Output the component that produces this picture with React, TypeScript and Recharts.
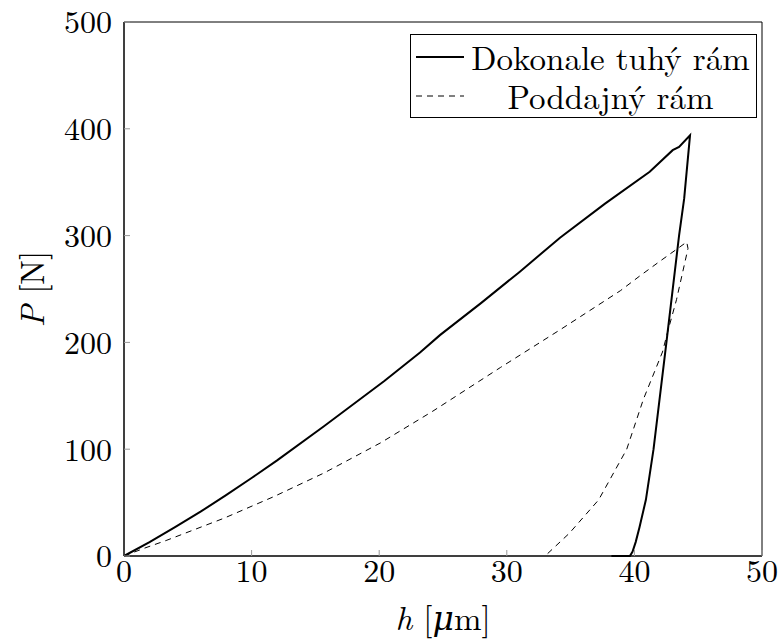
import React from 'react';
import { LineChart, Line, XAxis, YAxis, Label, ReferenceArea } from 'recharts';

// Dokonale tuhý rám (zatěžování + odlehčení)
const tuhyH = [0, 2, 4, 6, 8, 10, 12, 15.67, 20.4, 23.2, 24.76, 28, 31, 34.17, 37.7, 41.2, 43, 43.5, 44.36, 43.9, 43.5, 42.5, 41.5, 40.9, 40.4, 40.1, 39.85, 39.65, 38.2];
const tuhyP = [0, 13, 27, 41.5, 57, 73, 89.5, 121.5, 163.8, 190.5, 206.8, 237, 266, 298, 329.9, 359.7, 380, 383, 394, 334.6, 300, 199, 100, 52.6, 27, 13, 4, 0, 0];

// Poddajný rám
const poddH = [0, 1.57, 3.3, 7.84, 11.76, 15.67, 20.1, 24.2, 29.5, 34.2, 38.9, 40.4, 42, 44.1, 44.2, 43.3, 42.6, 42.2, 40.7, 39.4, 37.2, 34.9, 33.0];
const poddP = [0, 7.2, 14.5, 35.4, 55.7, 77.7, 105.9, 135.6, 176.5, 212, 248.4, 262, 276, 294, 288, 240, 209.6, 191, 146.6, 100, 52.6, 21.3, 0];

const xTicks = [0, 10, 20, 30, 40, 50];
const yTicks = [0, 100, 200, 300, 400, 500];

const toPoints = (hs: number[], ps: number[]) => hs.map((h, i) => ({ h, P: ps[i] }));

const series = [
  { name: 'Dokonale tuhý rám', data: toPoints(tuhyH, tuhyP), width: 2, dash: undefined },
  { name: 'Poddajný rám', data: toPoints(poddH, poddP), width: 1, dash: '6 5' },
];

const FONT = '"Latin Modern Roman", "DejaVu Serif", serif';
const tickStyle = { fontFamily: FONT, fontSize: 32, fill: '#000' };

const YTitle = ({ viewBox }: any) => {
  const cx = 30;
  const cy = viewBox.y + viewBox.height / 2;
  return (
    <text x={cx} y={cy} transform={`rotate(-90 ${cx} ${cy})`} textAnchor="middle" dominantBaseline="central"
      fontFamily={FONT} fontSize={33} fill="#000">
      <tspan fontStyle="italic">P</tspan>
      <tspan> [N]</tspan>
    </text>
  );
};

const XTitle = ({ viewBox }: any) => {
  const cx = viewBox.x + viewBox.width / 2;
  return (
    <text x={cx} y={630} textAnchor="middle" fontFamily={FONT} fontSize={33} fill="#000">
      <tspan fontStyle="italic">h</tspan>
      <tspan> [</tspan>
      <tspan fontStyle="italic">μ</tspan>
      <tspan>m]</tspan>
    </text>
  );
};

const LegendBox = () => (
  <div
    style={{
      position: 'absolute', left: 410, top: 34, width: 347, height: 84,
      border: '1px solid #000', background: '#fff', fontFamily: FONT, fontSize: 33,
      boxSizing: 'border-box', padding: '2px 3px',
    }}
  >
    {series.map((s) => (
      <div key={s.name} style={{ display: 'flex', alignItems: 'center', height: 39, lineHeight: 1 }}>
        <svg width={54} height={10} style={{ flex: 'none' }}>
          <line x1={2} y1={5} x2={50} y2={5} stroke="#000" strokeWidth={s.width} strokeDasharray={s.dash ? '6 5' : undefined} />
        </svg>
        <span style={{ flex: 1, textAlign: 'center', whiteSpace: 'nowrap' }}>{s.name}</span>
      </div>
    ))}
  </div>
);

export default function App() {
  return (
    <div style={{ position: 'relative', width: 778, height: 640, background: '#fff' }}>
      <style>{`body{margin:0}`}</style>
      <LineChart width={778} height={640} margin={{ top: 22, right: 16, bottom: 0, left: 0 }}>
        <XAxis dataKey="h" type="number" domain={[0, 50]} ticks={xTicks} height={84}
          tick={tickStyle} tickSize={-6} tickMargin={9}
          axisLine={{ stroke: '#000' }} tickLine={{ stroke: '#999' }}>
          <Label content={<XTitle />} />
        </XAxis>
        <XAxis xAxisId="top" dataKey="h" orientation="top" type="number" domain={[0, 50]} ticks={xTicks} height={0}
          tick={false} tickSize={-6} axisLine={{ stroke: '#000' }} tickLine={{ stroke: '#999' }} />
        <YAxis dataKey="P" type="number" domain={[0, 500]} ticks={yTicks} width={124}
          tick={tickStyle} tickSize={-6} tickMargin={18}
          axisLine={{ stroke: '#000' }} tickLine={{ stroke: '#999' }}>
          <Label content={<YTitle />} />
        </YAxis>
        <YAxis yAxisId="right" dataKey="P" orientation="right" type="number" domain={[0, 500]} ticks={yTicks} width={0}
          tick={false} tickSize={-6} axisLine={{ stroke: '#000' }} tickLine={{ stroke: '#999' }} />
        <ReferenceArea x1={0} x2={50} y1={0} y2={500} fill="none" stroke="#000" strokeWidth={1} ifOverflow="visible" />
        {series.map((s) => (
          <Line key={s.name} data={s.data} dataKey="P" name={s.name} type="linear" stroke="#000"
            strokeWidth={s.width} strokeDasharray={s.dash} dot={false} isAnimationActive={false} />
        ))}
        <Line data={series[1].data} dataKey="P" xAxisId="top" yAxisId="right" stroke="none" dot={false}
          legendType="none" isAnimationActive={false} />
      </LineChart>
      <LegendBox />
    </div>
  );
}
